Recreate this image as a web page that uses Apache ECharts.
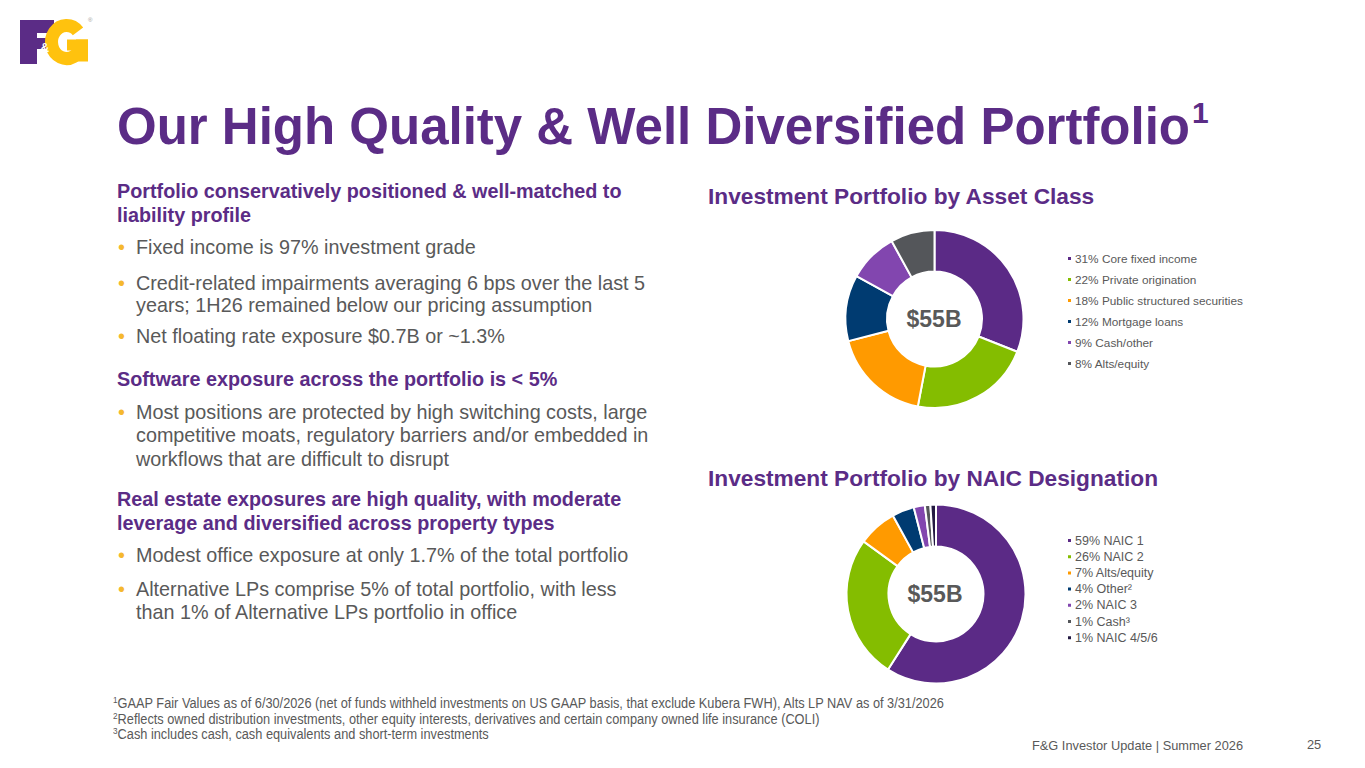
<!DOCTYPE html>
<html>
<head>
<meta charset="utf-8">
<script src="https://cdn.jsdelivr.net/npm/echarts@6/dist/echarts.min.js"></script>
<style>
  html, body { margin:0; padding:0; width:1365px; height:768px; overflow:hidden; background:#fff; }
  body { font-family: "Liberation Sans", Arial, sans-serif; position:relative; }
  #chart { position:absolute; left:0; top:0; width:1365px; height:768px; }
  .abs { position:absolute; white-space:nowrap; }
  .title { left:117px; top:97px; font-size:51px; font-weight:bold; color:#5B2C86; line-height:60px; }
  .title sup { font-size:30px; vertical-align:baseline; position:relative; top:-21px; line-height:0; margin-left:2px; }
  .sub { left:117px; font-size:19.8px; font-weight:bold; color:#5B2C86; line-height:24px; }
  .bul { left:117px; font-size:19.8px; color:#595959; padding-left:19px; line-height:22.5px; }
  .bul::before { content:"•"; position:absolute; left:1px; top:0; color:#F5B82E; }
  .fn { left:113px; top:696px; font-family:"Liberation Sans Narrow","Arial Narrow","Liberation Sans",sans-serif; font-size:14px; color:#595959; line-height:15.5px; transform:scaleX(0.912); transform-origin:0 0; }
  .fn sup { font-size:9px; vertical-align:baseline; position:relative; top:-5px; line-height:0; }
  .foot { font-size:12.8px; color:#595959; }
  #logo { position:absolute; left:0; top:0; }
</style>
</head>
<body>
<div id="chart"></div>

<svg id="logo" width="100" height="75" viewBox="0 0 100 75">
  <path d="M20,20 H54 V33 H37 V38 H50 V49 H37 V64 H20 Z" fill="#5B2C86"/>
  <path d="M78,31.4 A15 16.5 0 1 0 81.3 44.9" fill="none" stroke="#FFC20E" stroke-width="13"/>
  <rect x="67" y="39.5" width="21" height="11" fill="#FFC20E"/>
  <rect x="76" y="39.5" width="12" height="22" fill="#FFC20E"/>
  <text x="40.5" y="52" font-size="12" font-weight="bold" fill="#ffffff" font-family="Liberation Sans, Arial, sans-serif">&amp;</text>
  <text x="88" y="22" font-size="6" fill="#999999" font-family="Liberation Sans, Arial, sans-serif">®</text>
</svg>

<div class="abs title">Our High Quality &amp; Well Diversified Portfolio<sup>1</sup></div>

<div class="abs sub" style="top:179px;">Portfolio conservatively positioned &amp; well-matched to<br>liability profile</div>
<div class="abs bul" style="top:236px;">Fixed income is 97% investment grade</div>
<div class="abs bul" style="top:272px;line-height:22px;">Credit-related impairments averaging 6 bps over the last 5<br>years; 1H26 remained below our pricing assumption</div>
<div class="abs bul" style="top:325px;">Net floating rate exposure $0.7B or ~1.3%</div>

<div class="abs sub" style="top:367px;">Software exposure across the portfolio is &lt; 5%</div>
<div class="abs bul" style="top:400.5px;line-height:23.5px;">Most positions are protected by high switching costs, large<br>competitive moats, regulatory barriers and/or embedded in<br>workflows that are difficult to disrupt</div>

<div class="abs sub" style="top:487px;">Real estate exposures are high quality, with moderate<br>leverage and diversified across property types</div>
<div class="abs bul" style="top:544px;">Modest office exposure at only 1.7% of the total portfolio</div>
<div class="abs bul" style="top:578px;line-height:23px;">Alternative LPs comprise 5% of total portfolio, with less<br>than 1% of Alternative LPs portfolio in office</div>

<div class="abs fn"><sup>1</sup>GAAP Fair Values as of 6/30/2026 (net of funds withheld investments on US GAAP basis, that exclude Kubera FWH), Alts LP NAV as of 3/31/2026<br><sup>2</sup>Reflects owned distribution investments, other equity interests, derivatives and certain company owned life insurance (COLI)<br><sup>3</sup>Cash includes cash, cash equivalents and short-term investments</div>

<div class="abs foot" style="left:1032px;top:738px;">F&amp;G Investor Update | Summer 2026</div>
<div class="abs foot" style="left:1307px;top:737px;">25</div>

<script>
// ---- Data ----
const assetNames = ['Core fixed income', 'Private origination', 'Public structured securities', 'Mortgage loans', 'Cash/other', 'Alts/equity'];
const assetValues = [31, 22, 18, 12, 9, 8];
const assetColors = ['#5B2A86', '#84BD00', '#FF9A00', '#003B71', '#8246AF', '#54565A'];

const naicNames = ['NAIC 1', 'NAIC 2', 'Alts/equity', 'Other²', 'NAIC 3', 'Cash³', 'NAIC 4/5/6'];
const naicValues = [59, 26, 7, 4, 2, 1, 1];
const naicColors = ['#5B2A86', '#84BD00', '#FF9A00', '#003B71', '#8246AF', '#54565A', '#231942'];

const totalLabel = '$55B';
const chartTitles = ['Investment Portfolio by Asset Class', 'Investment Portfolio by NAIC Designation'];

// ---- Build ----
const assetLabels = assetNames.map((n, i) => assetValues[i] + '% ' + n);
const naicLabels = naicNames.map((n, i) => naicValues[i] + '% ' + n);

const chart = echarts.init(document.getElementById('chart'), null, { renderer: 'svg' });

const purple = '#5B2C86';
const gray = '#595959';
const font = '"Liberation Sans", Arial, sans-serif';

chart.setOption({
  animation: false,
  textStyle: { fontFamily: font },
  title: [
    { text: chartTitles[0], left: 708, top: 184, padding: 0,
      textStyle: { fontSize: 22.7, fontWeight: 'bold', color: purple, fontFamily: font } },
    { text: chartTitles[1], left: 708, top: 466, padding: 0,
      textStyle: { fontSize: 22.7, fontWeight: 'bold', color: purple, fontFamily: font } },
    { text: totalLabel, left: 934, top: 319, padding: 0, textAlign: 'center', textVerticalAlign: 'middle',
      textStyle: { fontSize: 23, fontWeight: 'bold', color: gray, fontFamily: font } },
    { text: totalLabel, left: 935, top: 594, padding: 0, textAlign: 'center', textVerticalAlign: 'middle',
      textStyle: { fontSize: 23, fontWeight: 'bold', color: gray, fontFamily: font } }
  ],
  legend: [
    { data: assetLabels, orient: 'vertical', left: 1066, top: 251, padding: 0,
      icon: 'rect', itemWidth: 5, itemHeight: 5, itemGap: 6, selectedMode: false,
      textStyle: { fontSize: 11.8, color: gray, lineHeight: 15, fontFamily: font, padding: [0, 0, 0, -2] } },
    { data: naicLabels, orient: 'vertical', left: 1066, top: 533, padding: 0,
      icon: 'rect', itemWidth: 5, itemHeight: 5, itemGap: 1.2, selectedMode: false,
      textStyle: { fontSize: 12.5, color: gray, lineHeight: 15, fontFamily: font, padding: [0, 0, 0, -2] } }
  ],
  series: [
    {
      type: 'pie', center: [934.5, 319], radius: [47.5, 89], startAngle: 90, clockwise: true,
      label: { show: false }, labelLine: { show: false }, silent: true,
      itemStyle: { borderColor: '#fff', borderWidth: 2 },
      data: assetLabels.map((n, i) => ({ name: n, value: assetValues[i], itemStyle: { color: assetColors[i] } }))
    },
    {
      type: 'pie', center: [936, 594], radius: [47.5, 89.5], startAngle: 90, clockwise: true,
      label: { show: false }, labelLine: { show: false }, silent: true,
      itemStyle: { borderColor: '#fff', borderWidth: 2 },
      data: naicLabels.map((n, i) => ({ name: n, value: naicValues[i], itemStyle: { color: naicColors[i] } }))
    }
  ]
});
</script>
</body>
</html>
